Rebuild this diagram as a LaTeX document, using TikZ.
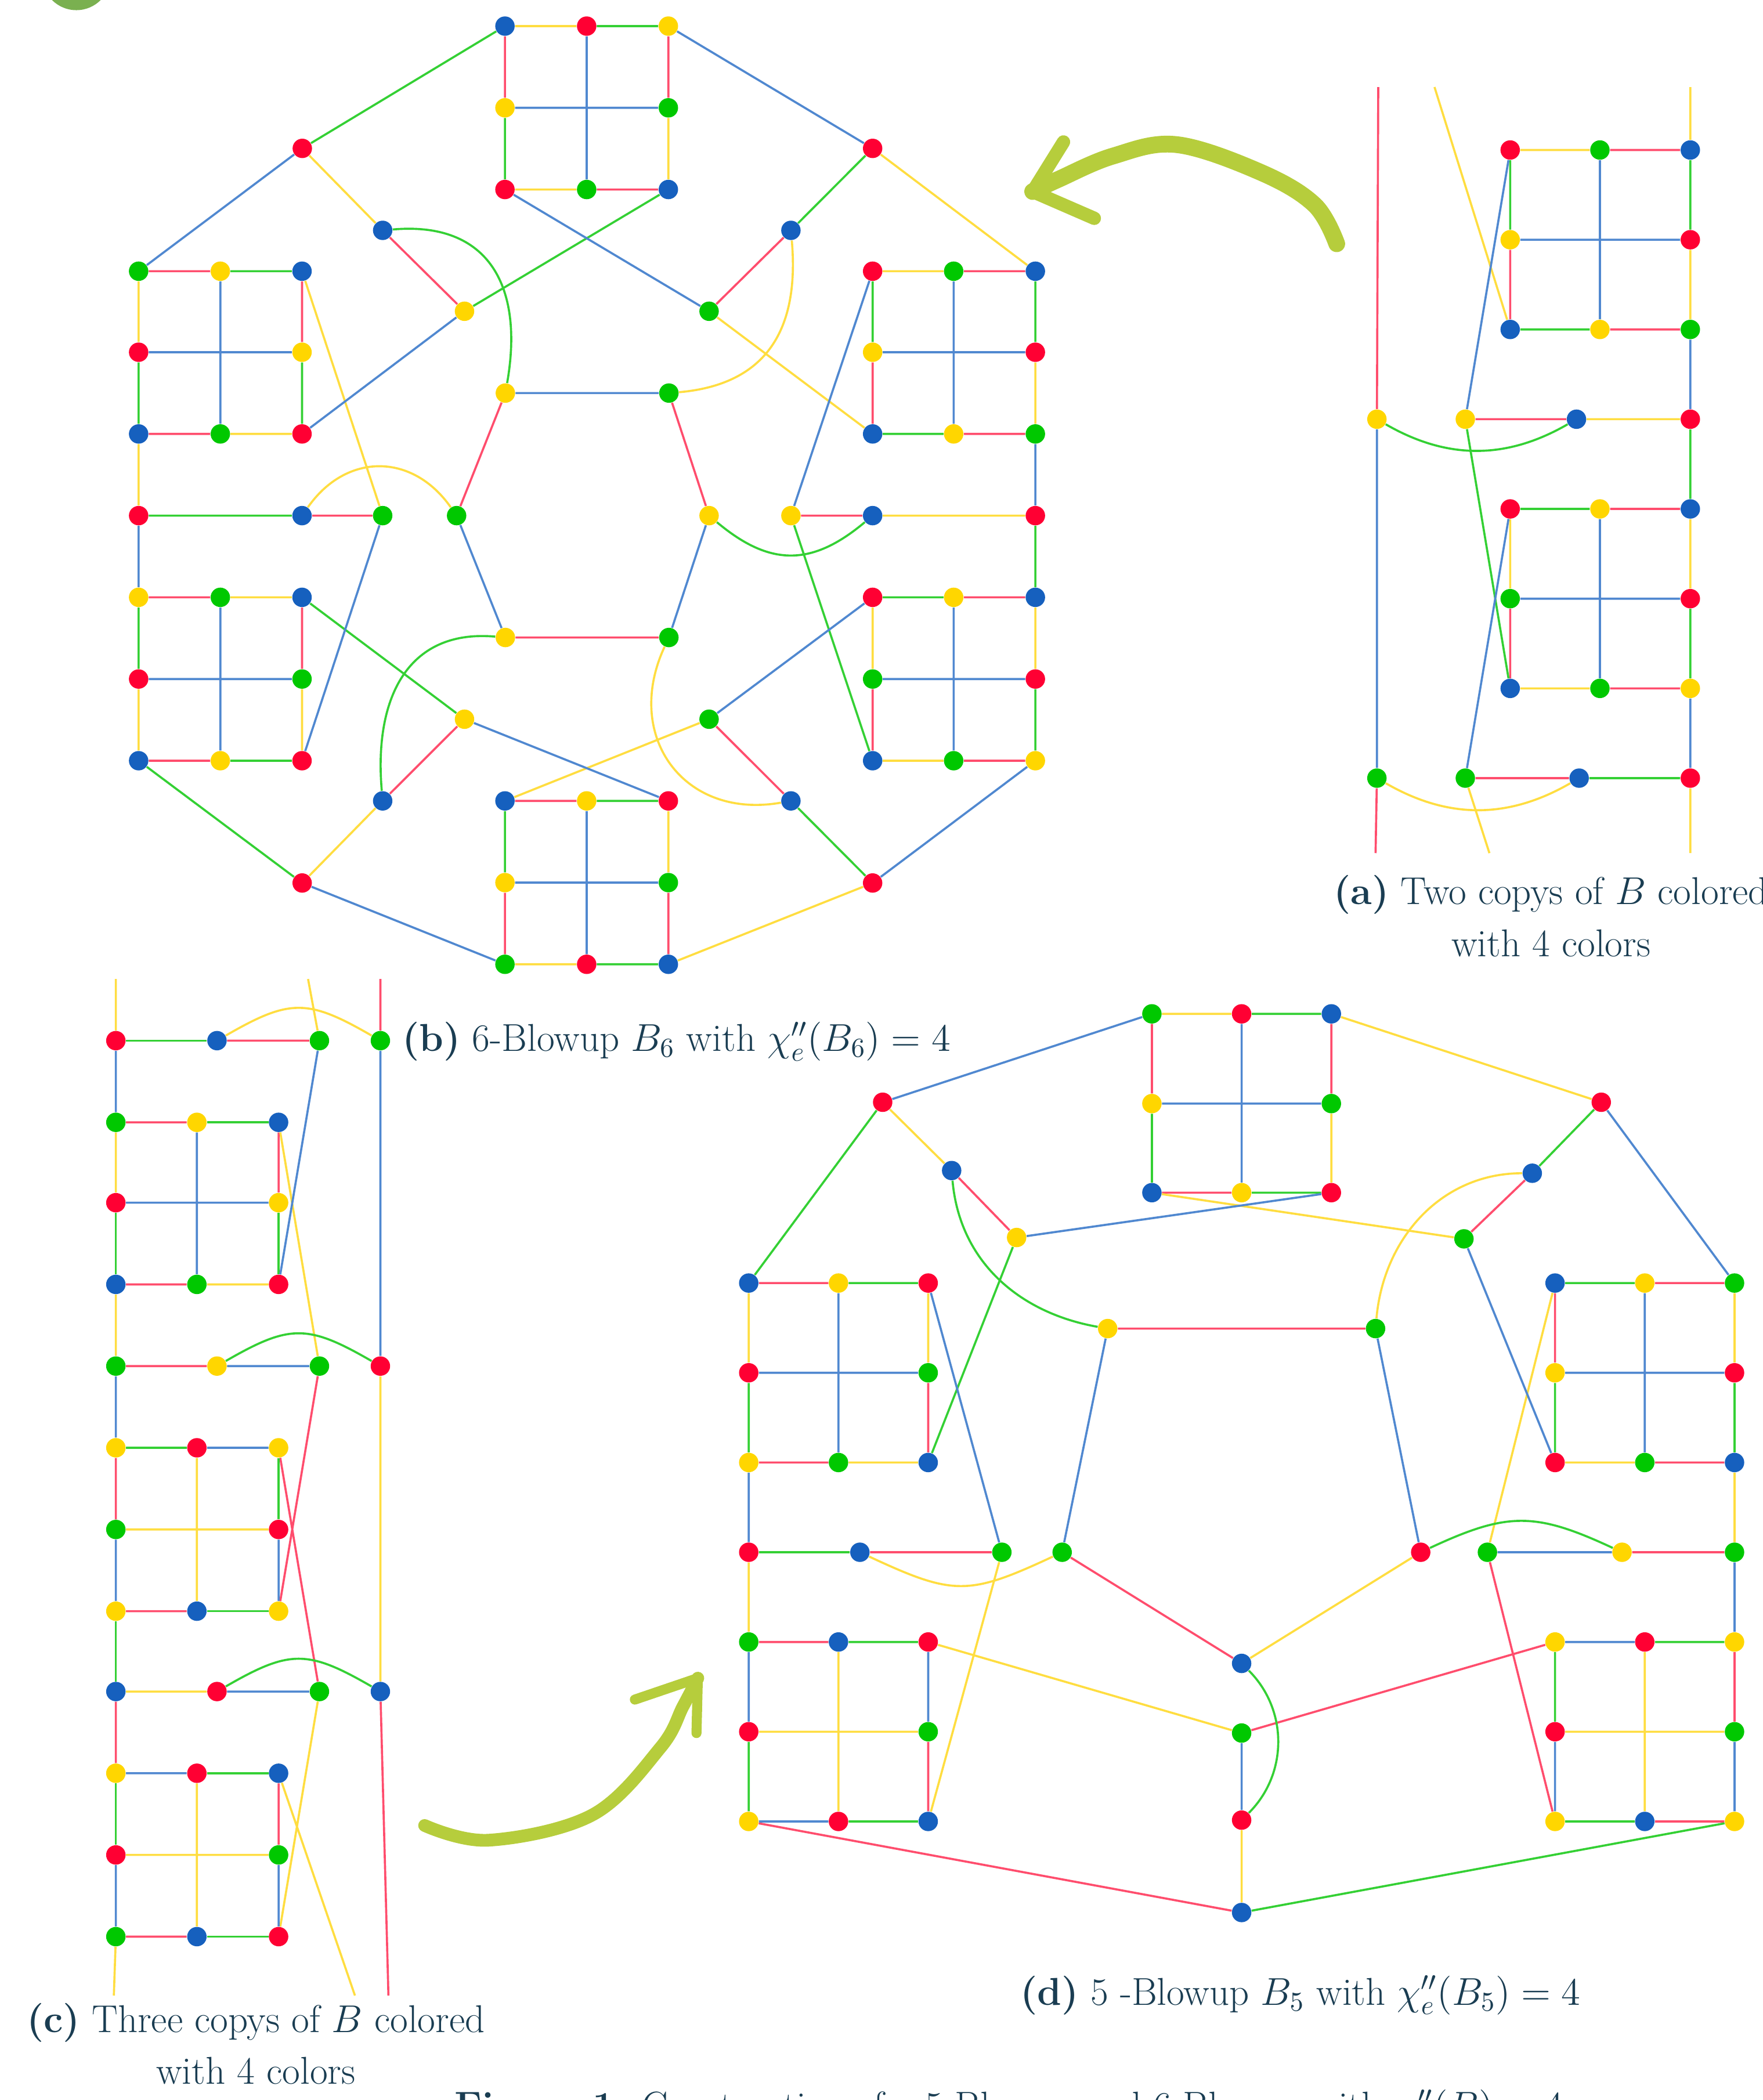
\RequirePackage{fix-cm}
\documentclass[tikz,border=0pt]{standalone}
\usepackage{fontspec}
\usepackage{tikz}
\definecolor{VRed}{RGB}{255,0,51}
\definecolor{VBlue}{RGB}{22,96,190}
\definecolor{VGreen}{RGB}{0,200,0}
\definecolor{VYellow}{RGB}{255,214,0}
\definecolor{ERed}{RGB}{255,77,109}
\definecolor{EBlue}{RGB}{80,136,208}
\definecolor{EGreen}{RGB}{52,208,52}
\definecolor{EYellow}{RGB}{255,221,64}
\definecolor{ArrowOlive}{RGB}{182,205,60}
\definecolor{CapText}{RGB}{26,61,82}
\definecolor{BadgeGreen}{RGB}{122,176,80}

\tikzset{
  vtx/.style={circle, inner sep=0pt, minimum size=0.29cm},
  vr/.style={vtx, fill=VRed},
  vb/.style={vtx, fill=VBlue},
  vg/.style={vtx, fill=VGreen},
  vy/.style={vtx, fill=VYellow},
  er/.style={draw=ERed, line width=0.9pt},
  eb/.style={draw=EBlue, line width=0.9pt},
  eg/.style={draw=EGreen, line width=0.9pt},
  ey/.style={draw=EYellow, line width=0.9pt},
  hand/.style={draw=ArrowOlive, line cap=round, line join=round},
  captext/.style={text=CapText, inner sep=0pt, font=\fontsize{16.5}{22}\selectfont}
}

\begin{document}
\begin{tikzpicture}[x=0.02cm, y=-0.02cm]
\useasboundingbox (0,0) rectangle (1316,1568);

% badge in the corner
\fill[BadgeGreen] (57,-18) circle[radius=0.512cm];

%% (b) 6-Blowup
% top block
\node[vb] (bt1) at (377,19.5) {};  \node[vr] (bt2) at (438,19.5) {};  \node[vy] (bt3) at (499,19.5) {};
\node[vy] (bt4) at (377,80.5) {};  \node[vg] (bt5) at (499,80.5) {};
\node[vr] (bt6) at (377,141.5) {}; \node[vg] (bt7) at (438,141.5) {}; \node[vb] (bt8) at (499,141.5) {};
% left blocks
\node[vg] (bl1) at (103.5,202.5) {}; \node[vy] (bl2) at (164.5,202.5) {}; \node[vb] (bl3) at (225.5,202.5) {};
\node[vr] (bl4) at (103.5,263) {};   \node[vy] (bl5) at (225.5,263) {};
\node[vb] (bl6) at (103.5,324) {};   \node[vg] (bl7) at (164.5,324) {};   \node[vr] (bl8) at (225.5,324) {};
\node[vy] (bm1) at (103.5,446) {}; \node[vg] (bm2) at (164.5,446) {}; \node[vb] (bm3) at (225.5,446) {};
\node[vr] (bm4) at (103.5,507) {}; \node[vg] (bm5) at (225.5,507) {};
\node[vb] (bm6) at (103.5,568) {}; \node[vy] (bm7) at (164.5,568) {}; \node[vr] (bm8) at (225.5,568) {};
% right blocks
\node[vr] (br1) at (651.5,202.5) {}; \node[vg] (br2) at (712,202.5) {}; \node[vb] (br3) at (773,202.5) {};
\node[vy] (br4) at (651.5,263) {};   \node[vr] (br5) at (773,263) {};
\node[vb] (br6) at (651.5,324) {};   \node[vy] (br7) at (712,324) {};   \node[vg] (br8) at (773,324) {};
\node[vr] (bs1) at (651.5,446) {}; \node[vy] (bs2) at (712,446) {}; \node[vb] (bs3) at (773,446) {};
\node[vg] (bs4) at (651.5,507) {}; \node[vr] (bs5) at (773,507) {};
\node[vb] (bs6) at (651.5,568) {}; \node[vg] (bs7) at (712,568) {}; \node[vy] (bs8) at (773,568) {};
% bottom block
\node[vb] (bb1) at (377,598) {}; \node[vy] (bb2) at (438,598) {}; \node[vr] (bb3) at (499,598) {};
\node[vy] (bb4) at (377,659) {}; \node[vg] (bb5) at (499,659) {};
\node[vg] (bb6) at (377,720) {}; \node[vr] (bb7) at (438,720) {}; \node[vb] (bb8) at (499,720) {};
% spokes and hexagon
\node[vr] (bo1) at (225.7,110.8) {}; \node[vr] (bo2) at (651.5,110.8) {};
\node[vr] (bo3) at (225.6,659.3) {}; \node[vr] (bo4) at (651.5,659.3) {};
\node[vb] (bp1) at (285.7,172) {}; \node[vb] (bp2) at (590.5,172) {};
\node[vb] (bp3) at (285.7,598) {}; \node[vb] (bp4) at (590.5,598) {};
\node[vy] (bq1) at (346.8,232.4) {}; \node[vg] (bq2) at (529.4,232.4) {};
\node[vy] (bq3) at (346.8,537) {};   \node[vg] (bq4) at (529.4,537) {};
\node[vy] (bh1) at (377.3,293.5) {}; \node[vg] (bh2) at (499.4,293.5) {}; \node[vy] (bh3) at (529.4,385) {};
\node[vg] (bh4) at (499.4,476) {};   \node[vy] (bh5) at (377.3,476) {};   \node[vg] (bh6) at (340.9,385) {};
\node[vr] (bk1) at (103.5,385) {}; \node[vb] (bk2) at (225.5,385) {}; \node[vg] (bk3) at (285.7,385) {};
\node[vy] (bk4) at (590.5,385) {}; \node[vb] (bk5) at (651.5,385) {}; \node[vr] (bk6) at (773,385) {};

\draw[er] (bt1)--(bt4) (bt3)--(bt5) (bt7)--(bt8) (bl1)--(bl2) (bl3)--(bl5) (bl6)--(bl7)
          (bm1)--(bm2) (bm3)--(bm5) (bm6)--(bm7) (br2)--(br3) (br4)--(br6) (br7)--(br8)
          (bs2)--(bs3) (bs4)--(bs6) (bs7)--(bs8) (bb1)--(bb2) (bb4)--(bb6) (bb5)--(bb8)
          (bp1)--(bq1) (bp2)--(bq2) (bp3)--(bq3) (bp4)--(bq4)
          (bh2)--(bh3) (bh4)--(bh5) (bh6)--(bh1) (bk2)--(bk3) (bk4)--(bk5);
\draw[eg] (bt2)--(bt3) (bt4)--(bt6) (bl2)--(bl3) (bl4)--(bl6) (bl5)--(bl8)
          (bm1)--(bm4) (bm7)--(bm8) (br1)--(br4) (br3)--(br5) (br6)--(br7)
          (bs1)--(bs2) (bs5)--(bs8) (bb2)--(bb3) (bb1)--(bb4) (bb7)--(bb8)
          (bo1)--(bt1) (bo2)--(bp2) (bq1)--(bt8) (bm3)--(bq3) (bm6)--(bo3) (bp4)--(bo4)
          (bk1)--(bk2) (bk4)--(bs6) (bk6)--(bs3);
\draw[ey] (bt1)--(bt2) (bt6)--(bt7) (bt5)--(bt8) (bl1)--(bl4) (bl7)--(bl8)
          (bm2)--(bm3) (bm4)--(bm6) (bm5)--(bm8) (br1)--(br2) (br5)--(br8)
          (bs1)--(bs4) (bs3)--(bs5) (bs6)--(bs7) (bb3)--(bb5) (bb6)--(bb7)
          (bo1)--(bp1) (bo2)--(br3) (bq2)--(br6) (bo3)--(bp3) (bq4)--(bb1) (bb8)--(bo4)
          (bl3)--(bk3) (bl6)--(bk1) (bk5)--(bk6);
\draw[eb] (bt2)--(bt7) (bt4)--(bt5) (bl2)--(bl7) (bl4)--(bl5) (bm2)--(bm7) (bm4)--(bm5)
          (br2)--(br7) (br4)--(br5) (bs2)--(bs7) (bs4)--(bs5) (bb2)--(bb7) (bb4)--(bb5)
          (bo1)--(bl1) (bt3)--(bo2) (bq1)--(bl8) (bq2)--(bt6)
          (bo3)--(bb6) (bq3)--(bb3) (bq4)--(bs1) (bo4)--(bs8)
          (bh1)--(bh2) (bh3)--(bh4) (bh5)--(bh6)
          (bk1)--(bm1) (bk3)--(bm8) (br1)--(bk4) (br8)--(bk6);
\draw[eg] (bp1) to[out=5, in=80, looseness=1.3] (bh1);
\draw[ey] (bp2) to[out=-85, in=5, looseness=1.2] (bh2);
\draw[ey] (bk2) to[out=55, in=125, looseness=1.2] (bh6);
\draw[eg] (bh3) to[out=-40, in=-140, looseness=1.2] (bk5);
\draw[eg] (bh5) to[out=175, in=95, looseness=1.2] (bp3);
\draw[ey] (bh4) to[out=-115, in=190, looseness=1.3] (bp4);

%% (a) two copies of B
\coordinate (aTop1) at (1029,65); \coordinate (aTop2) at (1071,65); \coordinate (aTop3) at (1262,65);
\coordinate (aBot1) at (1027,637); \coordinate (aBot2) at (1112,637); \coordinate (aBot3) at (1262,637);
\node[vr] (aa1) at (1127.5,112) {}; \node[vg] (aa2) at (1194.5,112) {}; \node[vb] (aa3) at (1262,112) {};
\node[vy] (aa4) at (1127.5,179) {}; \node[vr] (aa5) at (1262,179) {};
\node[vb] (aa6) at (1127.5,246) {}; \node[vy] (aa7) at (1194.5,246) {}; \node[vg] (aa8) at (1262,246) {};
\node[vy] (ac1) at (1028,313) {}; \node[vy] (ac2) at (1094,313) {}; \node[vb] (ac3) at (1177,313) {}; \node[vr] (ac4) at (1262,313) {};
\node[vr] (ab1) at (1127.5,380) {}; \node[vy] (ab2) at (1194.5,380) {}; \node[vb] (ab3) at (1262,380) {};
\node[vg] (ab4) at (1127.5,447) {}; \node[vr] (ab5) at (1262,447) {};
\node[vb] (ab6) at (1127.5,514) {}; \node[vg] (ab7) at (1194.5,514) {}; \node[vy] (ab8) at (1262,514) {};
\node[vg] (ad1) at (1028,581) {}; \node[vg] (ad2) at (1094,581) {}; \node[vb] (ad3) at (1179,581) {}; \node[vr] (ad4) at (1262,581) {};

\draw[er] (aTop1)--(ac1) (aa2)--(aa3) (aa4)--(aa6) (aa7)--(aa8) (ab2)--(ab3) (ab4)--(ab6) (ab7)--(ab8)
          (ac2)--(ac3) (ad2)--(ad3) (ad1)--(aBot1);
\draw[eg] (aa1)--(aa4) (aa3)--(aa5) (aa6)--(aa7) (ab1)--(ab2) (ab5)--(ab8)
          (ac4)--(ab3) (ac2)--(ab6) (ad3)--(ad4);
\draw[ey] (aTop2)--(aa6) (aTop3)--(aa3) (aa1)--(aa2) (aa5)--(aa8) (ab1)--(ab4) (ab3)--(ab5) (ab6)--(ab7)
          (ac3)--(ac4) (ad2)--(aBot2) (ad4)--(aBot3);
\draw[eb] (aa2)--(aa7) (aa4)--(aa5) (ab2)--(ab7) (ab4)--(ab5)
          (aa8)--(ac4) (ab8)--(ad4) (ac1)--(ad1) (ac2)--(aa1) (ad2)--(ab1);
\draw[eg] (ac1) to[out=-30, in=-150] (ac3);
\draw[ey] (ad1) to[out=-30, in=-150] (ad3);

%% (c) three copies of B
\coordinate (cTop1) at (86.5,731); \coordinate (cTop2) at (230,731); \coordinate (cTop3) at (284,731);
\coordinate (cBot1) at (85,1490); \coordinate (cBot2) at (265,1490); \coordinate (cBot3) at (290,1490);
\node[vr] (ca1) at (86.5,777) {}; \node[vb] (ca2) at (162,777) {}; \node[vg] (ca3) at (238.5,777) {}; \node[vg] (ca4) at (284,777) {};
\node[vg] (cb1) at (86.5,838) {}; \node[vy] (cb2) at (147,838) {}; \node[vb] (cb3) at (208,838) {};
\node[vr] (cb4) at (86.5,898) {}; \node[vy] (cb5) at (208,898) {};
\node[vb] (cb6) at (86.5,959) {}; \node[vg] (cb7) at (147,959) {}; \node[vr] (cb8) at (208,959) {};
\node[vg] (cc1) at (86.5,1020) {}; \node[vy] (cc2) at (162,1020) {}; \node[vg] (cc3) at (238.5,1020) {}; \node[vr] (cc4) at (284,1020) {};
\node[vy] (cd1) at (86.5,1081) {}; \node[vr] (cd2) at (147,1081) {}; \node[vy] (cd3) at (208,1081) {};
\node[vg] (cd4) at (86.5,1142) {}; \node[vr] (cd5) at (208,1142) {};
\node[vy] (cd6) at (86.5,1203) {}; \node[vb] (cd7) at (147,1203) {}; \node[vy] (cd8) at (208,1203) {};
\node[vb] (ce1) at (86.5,1263) {}; \node[vr] (ce2) at (162,1263) {}; \node[vg] (ce3) at (238.5,1263) {}; \node[vb] (ce4) at (284,1263) {};
\node[vy] (cf1) at (86.5,1324) {}; \node[vr] (cf2) at (147,1324) {}; \node[vb] (cf3) at (208,1324) {};
\node[vr] (cf4) at (86.5,1385) {}; \node[vg] (cf5) at (208,1385) {};
\node[vg] (cf6) at (86.5,1446) {}; \node[vb] (cf7) at (147,1446) {}; \node[vr] (cf8) at (208,1446) {};

\draw[er] (cTop3)--(ca4) (ca2)--(ca3) (cb1)--(cb2) (cb3)--(cb5) (cb6)--(cb7)
          (cc1)--(cc2) (cd1)--(cd4) (cd6)--(cd7) (ce1)--(cf1) (cf3)--(cf5) (cf6)--(cf7)
          (ce4)--(cBot3) (cc3)--(cd8) (cd3)--(ce3);
\draw[eg] (ca1)--(ca2) (cb2)--(cb3) (cb4)--(cb6) (cb5)--(cb8) (cd1)--(cd2) (cd3)--(cd5) (cd7)--(cd8)
          (cd6)--(ce1) (cf2)--(cf3) (cf1)--(cf4) (cf7)--(cf8);
\draw[ey] (cTop1)--(ca1) (cTop2)--(ca3) (cb1)--(cb4) (cb7)--(cb8) (cb6)--(cc1) (cd2)--(cd7) (cd4)--(cd5)
          (ce1)--(ce2) (cf2)--(cf7) (cf4)--(cf5) (cf6)--(cBot1) (cc4)--(ce4)
          (cb3)--(cc3) (ce3)--(cf8) (cf3)--(cBot2);
\draw[eb] (ca1)--(cb1) (cb2)--(cb7) (cb4)--(cb5) (cc2)--(cc3) (cc1)--(cd1) (cd2)--(cd3) (cd4)--(cd6)
          (cd5)--(cd8) (ce2)--(ce3) (cf1)--(cf2) (cf4)--(cf6) (cf5)--(cf8) (ca4)--(cc4) (ca3)--(cb8);
\draw[ey] (ca2) to[out=30, in=150, looseness=1.3] (ca4);
\draw[eg] (cc2) to[out=30, in=150, looseness=1.3] (cc4);
\draw[eg] (ce2) to[out=30, in=150, looseness=1.3] (ce4);

%% (d) 5-Blowup
\node[vg] (dt1) at (860,757) {};   \node[vr] (dt2) at (927,757) {};   \node[vb] (dt3) at (994,757) {};
\node[vy] (dt4) at (860,824) {};   \node[vg] (dt5) at (994,824) {};
\node[vb] (dt6) at (860,890.5) {}; \node[vy] (dt7) at (927,890.5) {}; \node[vr] (dt8) at (994,890.5) {};
\node[vb] (dl1) at (559,958) {};  \node[vy] (dl2) at (626,958) {};  \node[vr] (dl3) at (693,958) {};
\node[vr] (dl4) at (559,1025) {}; \node[vg] (dl5) at (693,1025) {};
\node[vy] (dl6) at (559,1092) {}; \node[vg] (dl7) at (626,1092) {}; \node[vb] (dl8) at (693,1092) {};
\node[vg] (dm1) at (559,1226) {}; \node[vb] (dm2) at (626,1226) {}; \node[vr] (dm3) at (693,1226) {};
\node[vr] (dm4) at (559,1293) {}; \node[vg] (dm5) at (693,1293) {};
\node[vy] (dm6) at (559,1360) {}; \node[vr] (dm7) at (626,1360) {}; \node[vb] (dm8) at (693,1360) {};
\node[vb] (dr1) at (1161,958) {};  \node[vy] (dr2) at (1228,958) {};  \node[vg] (dr3) at (1295,958) {};
\node[vy] (dr4) at (1161,1025) {}; \node[vr] (dr5) at (1295,1025) {};
\node[vr] (dr6) at (1161,1092) {}; \node[vg] (dr7) at (1228,1092) {}; \node[vb] (dr8) at (1295,1092) {};
\node[vy] (ds1) at (1161,1226) {}; \node[vr] (ds2) at (1228,1226) {}; \node[vy] (ds3) at (1295,1226) {};
\node[vr] (ds4) at (1161,1293) {}; \node[vg] (ds5) at (1295,1293) {};
\node[vy] (ds6) at (1161,1360) {}; \node[vb] (ds7) at (1228,1360) {}; \node[vy] (ds8) at (1295,1360) {};
\node[vr] (do1) at (659,823) {};    \node[vr] (do2) at (1195.5,823) {};
\node[vb] (dp1) at (710.5,874) {};  \node[vb] (dp2) at (1144,876) {};
\node[vy] (dq1) at (759,924) {};    \node[vg] (dq2) at (1093,925) {};
\node[vy] (dh1) at (827,992) {};    \node[vg] (dh2) at (1027,992) {};
\node[vr] (dk1) at (559,1159) {}; \node[vb] (dk2) at (642,1159) {}; \node[vg] (dk3) at (748,1159) {}; \node[vg] (dk4) at (793,1159) {};
\node[vr] (dk5) at (1060.7,1159) {}; \node[vg] (dk6) at (1110.5,1159) {}; \node[vy] (dk7) at (1211,1159) {}; \node[vg] (dk8) at (1295,1159) {};
\node[vb] (dc1) at (927,1242) {}; \node[vg] (dc2) at (927,1294) {}; \node[vr] (dc3) at (927,1359) {}; \node[vb] (dc4) at (927,1428) {};

\draw[er] (dt1)--(dt4) (dt3)--(dt5) (dt6)--(dt7) (dl1)--(dl2) (dl5)--(dl8) (dl6)--(dl7)
          (dm1)--(dm2) (dm5)--(dm8) (dr2)--(dr3) (dr1)--(dr4) (dr7)--(dr8) (ds3)--(ds5) (ds7)--(ds8)
          (dp1)--(dq1) (dp2)--(dq2) (dh1)--(dh2) (dk2)--(dk3) (dk4)--(dc1)
          (dm6)--(dc4) (dc2)--(ds1) (dk6)--(ds6) (dk7)--(dk8);
\draw[eg] (dt2)--(dt3) (dt4)--(dt6) (dt7)--(dt8) (dl2)--(dl3) (dl4)--(dl6)
          (dm2)--(dm3) (dm4)--(dm6) (dm7)--(dm8) (dr1)--(dr2) (dr4)--(dr6) (dr5)--(dr8)
          (ds2)--(ds3) (ds1)--(ds4) (ds6)--(ds7)
          (do1)--(dl1) (do2)--(dp2) (dl8)--(dq1) (dk1)--(dk2) (dc4)--(ds8);
\draw[ey] (dt1)--(dt2) (dt5)--(dt8) (dl1)--(dl4) (dl3)--(dl5) (dl7)--(dl8) (dm2)--(dm7) (dm4)--(dm5)
          (dr3)--(dr5) (dr6)--(dr7) (ds2)--(ds7) (ds4)--(ds5)
          (dt3)--(do2) (do1)--(dp1) (dt6)--(dq2) (dk1)--(dm1) (dk3)--(dm8)
          (dm3)--(dc2) (dc1)--(dk5) (dc3)--(dc4) (dk6)--(dr1) (dr8)--(dk8);
\draw[eb] (dt2)--(dt7) (dt4)--(dt5) (dl2)--(dl7) (dl4)--(dl5) (dm1)--(dm4) (dm3)--(dm5) (dm6)--(dm7)
          (dr2)--(dr7) (dr4)--(dr5) (ds1)--(ds2) (ds4)--(ds6) (ds5)--(ds8)
          (dt1)--(do1) (do2)--(dr3) (dq1)--(dt8) (dq2)--(dr6)
          (dh1)--(dk4) (dh2)--(dk5) (dl3)--(dk3) (dl6)--(dk1)
          (dc2)--(dc3) (dk6)--(dk7) (dk8)--(ds3);
\draw[eg] (dp1) to[out=-85, in=170] (dh1);
\draw[ey] (dh2) to[out=85, in=180] (dp2);
\draw[ey] (dk2) to[out=-25, in=-155, looseness=1.3] (dk4);
\draw[eg] (dk5) to[out=25, in=155, looseness=1.2] (dk7);
\draw[eg] (dc1) to[out=-45, in=45] (dc3);

%% captions
\node[captext, align=center] (capa) at (1158,684) {\textbf{(a)} Two copys of $B$ colored\\with 4 colors};
\node[captext, anchor=base west] (capb) at (300,785) {\textbf{(b)} 6-Blowup $B_6$ with $\chi''_e(B_6)=4$};
\node[captext, align=center] (capc) at (191,1526) {\textbf{(c)} Three copys of $B$ colored\\with 4 colors};
\node[captext, anchor=base] (capd) at (971,1497) {\textbf{(d)} 5 -Blowup $B_5$ with $\chi''_e(B_5)=4$};
\node[captext, anchor=base west] (capfig) at (339,1582) {\textbf{Figure 1:} Construction of a 5-Blowup and 6-Blowup with $\chi''_e(B)=4$};

%% hand drawn arrows
\coordinate (arrAtip) at (771,143);
\coordinate (arrAup) at (794,106);
\coordinate (arrAlow) at (817,163);
\draw[hand, line width=0.25cm] plot[smooth, tension=0.6] coordinates
  {(998,182) (981.5,153) (942,129) (878.6,108) (831,116.5) (790,134) (771,143)};
\draw[hand, line width=0.2cm] (arrAup) -- (arrAtip) -- (arrAlow);

\coordinate (arrBtip) at (521,1253);
\coordinate (arrBleft) at (474,1269);
\coordinate (arrBlow) at (520,1294);
\draw[hand, line width=0.19cm] plot[smooth, tension=0.6] coordinates
  {(317,1363) (365,1374) (442.5,1355) (493,1305) (510,1274) (521,1253)};
\draw[hand, line width=0.15cm] (arrBleft) -- (arrBtip) -- (arrBlow);
\end{tikzpicture}
\end{document}
